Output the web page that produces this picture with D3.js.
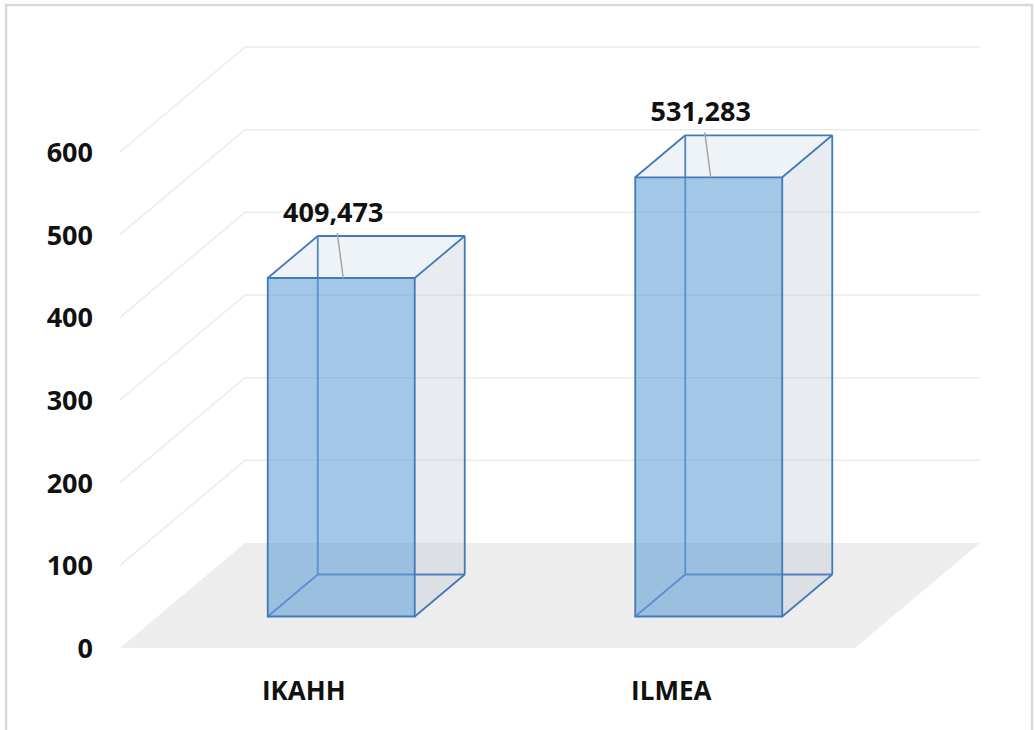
<!DOCTYPE html>
<html><head><meta charset="utf-8">
<script src="https://cdn.jsdelivr.net/npm/d3@7"></script>
<style>body{margin:0;background:#fff;overflow:hidden}</style>
</head><body>
<svg id="c" width="1035" height="730"></svg>
<script>
const categories = ["IKAHH", "ILMEA"];
const values = [409.473, 531.283];
const yTicks = [0, 100, 200, 300, 400, 500, 600];

const svg = d3.select("#c");
const FONT = "'Open Sans', 'Noto Sans', sans-serif";
const x0 = 120, x1 = 855, yBase = 648, yTopPx = 152;
const DX = 125, DY = 105;            // depth vector of the floor
const dFront = 0.3, dBack = 0.7;     // bar depth span
const EDGE = "#4479b9";

const x = d3.scaleBand().domain(categories).range([x0, x1]).paddingInner(0.6).paddingOuter(0.3);
const y = d3.scaleLinear().domain([0, 600]).range([yBase, yTopPx]);
const fmt = d3.formatLocale({decimal: ",", thousands: ".", grouping: [3], currency: ["", ""]}).format(".3f");
const P = (xp, v, d) => [xp + DX * d, y(v) - DY * d];

// frame
svg.append("rect").attr("x", 6).attr("y", 5).attr("width", 1026).attr("height", 740)
  .attr("fill", "#fff").attr("stroke", "#d9d9d9").attr("stroke-width", 2.5);

// floor
svg.append("polygon")
  .attr("points", [P(x0, 0, 0), P(x1, 0, 0), P(x1, 0, 1), P(x0, 0, 1)].map(p => p.join(",")).join(" "))
  .attr("fill", "#ededed");

// gridlines (side wall + back wall)
const grid = svg.append("g").attr("stroke", "#ebebeb").attr("stroke-width", 1.5).attr("fill", "none");
yTicks.filter(t => t > 0).forEach(t => {
  const a = P(x0, t, 0), b = P(x0, t, 1), c = P(x1, t, 1);
  grid.append("polyline").attr("points", [a, b, c].map(p => p.join(",")).join(" "));
});

// y tick labels
svg.append("g").selectAll("text").data(yTicks).join("text")
  .attr("x", 93).attr("y", d => y(d) + 10)
  .attr("text-anchor", "end")
  .attr("font-family", FONT).attr("font-weight", 700).attr("font-size", 27)
  .attr("fill", "#111").text(d => d);

// bars
const bars = svg.append("g");
categories.forEach((cat, i) => {
  const v = values[i];
  const bx = x(cat), bw = x.bandwidth();
  const L = bx, R = bx + bw;
  const poly = pts => pts.map(p => p.join(",")).join(" ");
  const g = bars.append("g");
  // right side face
  g.append("polygon").attr("points", poly([P(R, 0, dFront), P(R, v, dFront), P(R, v, dBack), P(R, 0, dBack)]))
    .attr("fill", "rgb(190,200,212)").attr("fill-opacity", 0.35);
  // top face
  g.append("polygon").attr("points", poly([P(L, v, dFront), P(R, v, dFront), P(R, v, dBack), P(L, v, dBack)]))
    .attr("fill", "rgb(200,215,232)").attr("fill-opacity", 0.3);
  const edge = (a, b, op) => g.append("line")
    .attr("x1", a[0]).attr("y1", a[1]).attr("x2", b[0]).attr("y2", b[1])
    .attr("stroke", EDGE).attr("stroke-width", 1.8).attr("stroke-opacity", op);
  // back edges (seen through)
  edge(P(L, 0, dBack), P(L, v, dBack), 0.9);
  edge(P(L, 0, dBack), P(R, 0, dBack), 0.9);
  edge(P(L, 0, dFront), P(L, 0, dBack), 0.9);
  // front face
  g.append("polygon").attr("points", poly([P(L, 0, dFront), P(R, 0, dFront), P(R, v, dFront), P(L, v, dFront)]))
    .attr("fill", "#5b9bd5").attr("fill-opacity", 0.56);
  // visible edges
  edge(P(R, 0, dBack), P(R, v, dBack), 1);
  edge(P(L, v, dBack), P(R, v, dBack), 1);
  edge(P(L, v, dFront), P(L, v, dBack), 1);
  edge(P(R, v, dFront), P(R, v, dBack), 1);
  edge(P(R, 0, dFront), P(R, 0, dBack), 1);
  g.append("polygon").attr("points", poly([P(L, 0, dFront), P(R, 0, dFront), P(R, v, dFront), P(L, v, dFront)]))
    .attr("fill", "none").attr("stroke", EDGE).attr("stroke-width", 1.8);

  // data label + leader
  const ft = P(L + bw / 2, v, dFront);
  g.append("line").attr("x1", ft[0] - 4).attr("y1", ft[1] - 45).attr("x2", ft[0] + 2).attr("y2", ft[1])
    .attr("stroke", "#a6a6a6").attr("stroke-width", 1.5);
  g.append("text").attr("x", ft[0] - 8).attr("y", ft[1] - 56)
    .attr("text-anchor", "middle")
    .attr("font-family", FONT).attr("font-weight", 700).attr("font-size", 27)
    .attr("fill", "#111").text(fmt(v));
});

// category labels
svg.append("g").selectAll("text").data(categories).join("text")
  .attr("x", d => x(d) + x.bandwidth() / 2).attr("y", 700)
  .attr("text-anchor", "middle")
  .attr("font-family", FONT).attr("font-weight", 700).attr("font-size", 26)
  .attr("fill", "#111").text(d => d);
</script>
</body></html>
